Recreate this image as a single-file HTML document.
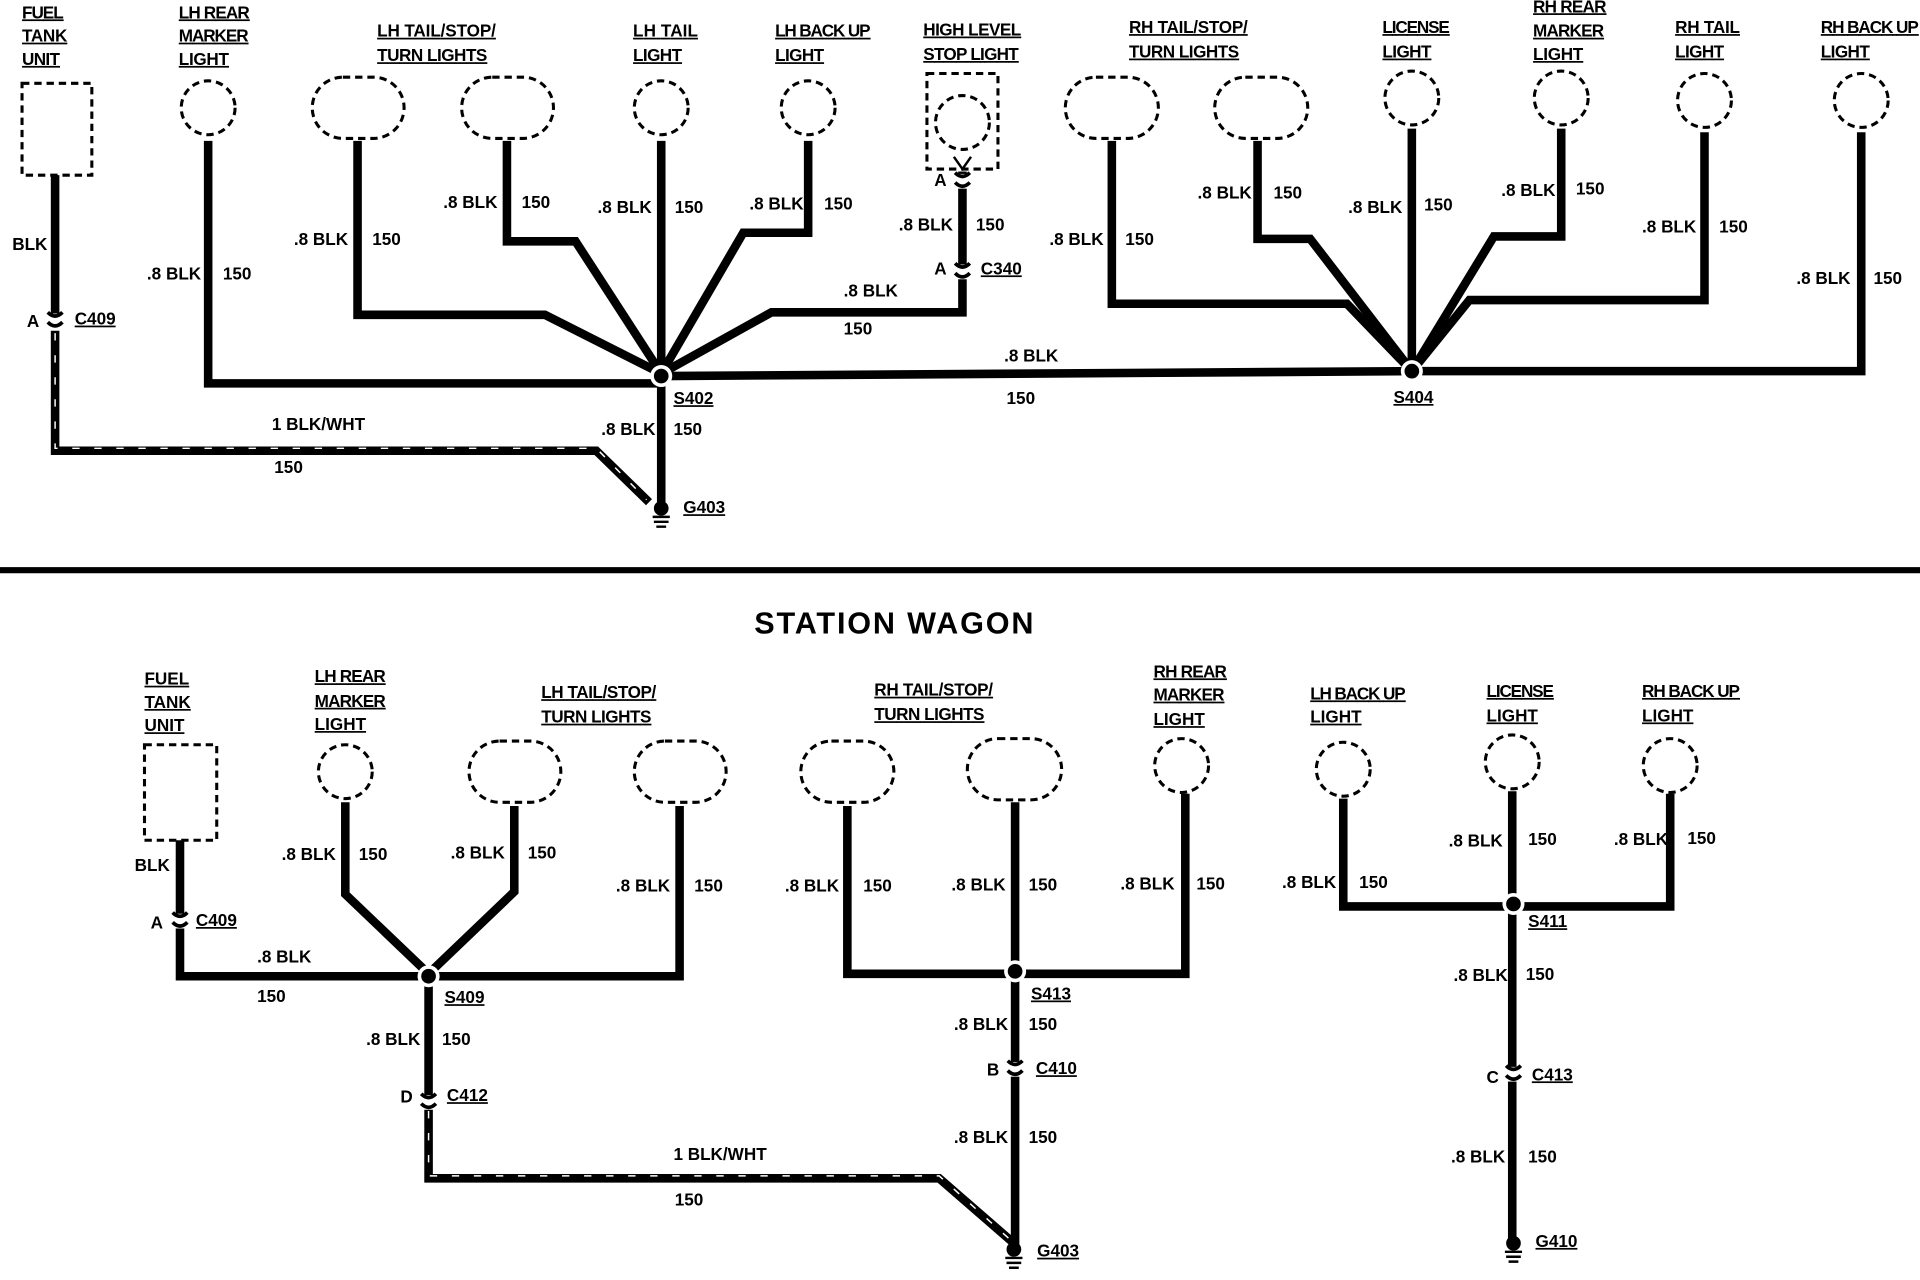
<!DOCTYPE html>
<html><head><meta charset="utf-8"><style>
html,body{margin:0;padding:0;background:#fff;width:1920px;height:1280px;overflow:hidden}
svg{display:block}
text{font-family:"Liberation Sans",sans-serif;font-weight:bold;font-size:14px;fill:#000;font-stretch:condensed}
.u{text-decoration:underline}
.w{fill:none;stroke:#000;stroke-width:7;stroke-linejoin:miter}
.s{fill:none;stroke:#fff;stroke-width:1.2;stroke-dasharray:6 12}
.d{fill:none;stroke:#000;stroke-width:2.5;stroke-dasharray:6 4}
</style></head><body>
<svg width="1920" height="1280" viewBox="0 0 1568 1045" preserveAspectRatio="none">
<defs>
<g id="sp"><circle r="9" fill="#fff"/><circle r="6" fill="#000"/></g>
<g id="cn"><rect x="-8" y="-6" width="16" height="12" fill="#fff"/><path d="M-6,-7 Q0,-1 6,-7 M-6,1 Q0,7 6,1" fill="none" stroke="#000" stroke-width="3"/></g>
<g id="gd"><circle r="6" fill="#000"/><path d="M-7,7h14M-6,11h12M-4,15h8" stroke="#000" stroke-width="2"/></g>
</defs>

<g transform="scale(0.92,1)">
<g transform="scale(1.0869565,1)">
</g></g>

<!-- TOP -->
<g>
<g style="font-size:14px">
<text class="u" x="18" y="15" textLength="34">FUEL</text><text class="u" x="18" y="34" textLength="37">TANK</text><text class="u" x="18" y="53" textLength="31">UNIT</text>
<text class="u" x="146" y="15" textLength="58">LH REAR</text><text class="u" x="146" y="34" textLength="57">MARKER</text><text class="u" x="146" y="53" textLength="41">LIGHT</text>
<text class="u" x="308" y="30" textLength="97">LH TAIL/STOP/</text><text class="u" x="308" y="50" textLength="90">TURN LIGHTS</text>
<text class="u" x="517" y="30" textLength="53">LH TAIL</text><text class="u" x="517" y="50" textLength="40">LIGHT</text>
<text class="u" x="633" y="30" textLength="78">LH BACK UP</text><text class="u" x="633" y="50" textLength="40">LIGHT</text>
<text class="u" x="754" y="29" textLength="80">HIGH LEVEL</text><text class="u" x="754" y="49" textLength="78">STOP LIGHT</text>
<text class="u" x="922" y="27" textLength="97">RH TAIL/STOP/</text><text class="u" x="922" y="47" textLength="90">TURN LIGHTS</text>
<text class="u" x="1129" y="27" textLength="55">LICENSE</text><text class="u" x="1129" y="47" textLength="40">LIGHT</text>
<text class="u" x="1252" y="10" textLength="60">RH REAR</text><text class="u" x="1252" y="30" textLength="58">MARKER</text><text class="u" x="1252" y="49" textLength="41">LIGHT</text>
<text class="u" x="1368" y="27" textLength="53">RH TAIL</text><text class="u" x="1368" y="47" textLength="40">LIGHT</text>
<text class="u" x="1487" y="27" textLength="80">RH BACK UP</text><text class="u" x="1487" y="47" textLength="40">LIGHT</text>
</g>

<rect class="d" x="18" y="68" width="57" height="75"/>
<circle class="d" cx="170" cy="88" r="22"/>
<rect class="d" x="255" y="63" width="75" height="50" rx="25"/>
<rect class="d" x="377" y="63" width="75" height="50" rx="25"/>
<circle class="d" cx="540" cy="88" r="22"/>
<circle class="d" cx="660" cy="88" r="22"/>
<rect class="d" x="757" y="60" width="58" height="78"/>
<circle class="d" cx="786" cy="100" r="22"/>
<rect class="d" x="870" y="63" width="76" height="50" rx="25"/>
<rect class="d" x="992" y="63" width="76" height="50" rx="25"/>
<circle class="d" cx="1153" cy="80" r="22"/>
<circle class="d" cx="1275" cy="80" r="22"/>
<circle class="d" cx="1392" cy="82" r="22"/>
<circle class="d" cx="1520" cy="82" r="22"/>

<path class="w" d="M45,143V262"/>
<path class="w" d="M45,270V368H487L530,410"/><path class="s" d="M45,272V366H487L528,408"/>
<path class="w" d="M170,115V313H540"/>
<path class="w" d="M292,115V257H445L540,305"/>
<path class="w" d="M414,115V197H470L540,305"/>
<path class="w" d="M540,115V415"/>
<path class="w" d="M660,115V190H607L540,305"/>
<path class="w" d="M786,140V255H630L540,305"/>
<path class="w" d="M540,307L1153,303"/>
<path class="w" d="M908,115V248H1100L1153,303"/>
<path class="w" d="M1027,115V195H1070L1153,303"/>
<path class="w" d="M1153,105V303"/>
<path class="w" d="M1275,105V193H1220L1153,303"/>
<path class="w" d="M1392,108V245H1200L1153,303"/>
<path class="w" d="M1520,108V303H1153"/>
<path d="M779,128L786,138L793,128" fill="none" stroke="#000" stroke-width="2"/>
<use href="#cn" x="45" y="262"/><use href="#cn" x="786" y="148"/><use href="#cn" x="786" y="222"/>
<use href="#sp" x="540" y="307"/><use href="#sp" x="1153" y="303"/>
<use href="#gd" x="540" y="415"/>

<text x="10" y="204">BLK</text><text x="22" y="267">A</text><text class="u" x="61" y="265">C409</text>
<text x="120" y="228">.8 BLK</text><text x="182" y="228">150</text>
<text x="240" y="200">.8 BLK</text><text x="304" y="200">150</text>
<text x="362" y="170">.8 BLK</text><text x="426" y="170">150</text>
<text x="488" y="174">.8 BLK</text><text x="551" y="174">150</text>
<text x="612" y="171">.8 BLK</text><text x="673" y="171">150</text>
<text x="734" y="188">.8 BLK</text><text x="797" y="188">150</text>
<text x="763" y="152">A</text><text x="763" y="224">A</text><text class="u" x="801" y="224">C340</text>
<text x="689" y="242">.8 BLK</text><text x="689" y="273">150</text>
<text x="820" y="295">.8 BLK</text><text x="822" y="330">150</text>
<text class="u" x="550" y="330">S402</text><text class="u" x="1138" y="329">S404</text>
<text x="222" y="351">1 BLK/WHT</text><text x="224" y="386">150</text>
<text x="491" y="355">.8 BLK</text><text x="550" y="355">150</text>
<text class="u" x="558" y="419">G403</text>
<text x="857" y="200">.8 BLK</text><text x="919" y="200">150</text>
<text x="978" y="162">.8 BLK</text><text x="1040" y="162">150</text>
<text x="1101" y="174">.8 BLK</text><text x="1163" y="172">150</text>
<text x="1226" y="160">.8 BLK</text><text x="1287" y="159">150</text>
<text x="1341" y="190">.8 BLK</text><text x="1404" y="190">150</text>
<text x="1467" y="232">.8 BLK</text><text x="1530" y="232">150</text>
</g>

<rect x="0" y="463" width="1568" height="5" fill="#000"/>
<text x="730" y="517" text-anchor="middle" style="font-size:25px" textLength="228">STATION WAGON</text>

<!-- BOTTOM -->
<g>
<text class="u" x="118" y="559">FUEL</text><text class="u" x="118" y="578">TANK</text><text class="u" x="118" y="597">UNIT</text>
<text class="u" x="257" y="557" textLength="58">LH REAR</text><text class="u" x="257" y="577" textLength="58">MARKER</text><text class="u" x="257" y="596">LIGHT</text>
<text class="u" x="442" y="570" textLength="94">LH TAIL/STOP/</text><text class="u" x="442" y="590" textLength="90">TURN LIGHTS</text>
<text class="u" x="714" y="568" textLength="97">RH TAIL/STOP/</text><text class="u" x="714" y="588" textLength="90">TURN LIGHTS</text>
<text class="u" x="942" y="553" textLength="60">RH REAR</text><text class="u" x="942" y="572" textLength="58">MARKER</text><text class="u" x="942" y="592">LIGHT</text>
<text class="u" x="1070" y="571" textLength="78">LH BACK UP</text><text class="u" x="1070" y="590">LIGHT</text>
<text class="u" x="1214" y="569" textLength="55">LICENSE</text><text class="u" x="1214" y="589">LIGHT</text>
<text class="u" x="1341" y="569" textLength="80">RH BACK UP</text><text class="u" x="1341" y="589">LIGHT</text>

<rect class="d" x="118" y="608" width="59" height="78"/>
<circle class="d" cx="282" cy="630" r="22"/>
<rect class="d" x="383" y="605" width="75" height="50" rx="25"/>
<rect class="d" x="518" y="605" width="75" height="50" rx="25"/>
<rect class="d" x="654" y="605" width="76" height="50" rx="25"/>
<rect class="d" x="790" y="603" width="77" height="50" rx="25"/>
<circle class="d" cx="965" cy="625" r="22"/>
<circle class="d" cx="1097" cy="628" r="22"/>
<circle class="d" cx="1235" cy="622" r="22"/>
<circle class="d" cx="1364" cy="625" r="22"/>

<path class="w" d="M147,686V797H350"/>
<path class="w" d="M282,655V730L350,795"/>
<path class="w" d="M420,658V728L350,795"/>
<path class="w" d="M555,658V797H350"/>
<path class="w" d="M350,797V898"/>
<path class="w" d="M350,905V962H767L828,1015"/><path class="s" d="M350,907V960H767L826,1013"/>
<path class="w" d="M692,658V795H968V648"/>
<path class="w" d="M829,655V1020"/>
<path class="w" d="M1097,652V740H1364V648"/>
<path class="w" d="M1235,646V1015"/>
<use href="#cn" x="147" y="752"/><use href="#cn" x="350" y="900"/><use href="#cn" x="829" y="873"/><use href="#cn" x="1236" y="877"/>
<use href="#sp" x="350" y="797"/><use href="#sp" x="829" y="793"/><use href="#sp" x="1236" y="738"/>
<use href="#gd" x="828" y="1020"/><use href="#gd" x="1236" y="1015"/>

<text x="110" y="711">BLK</text><text x="123" y="758">A</text><text class="u" x="160" y="756">C409</text>
<text x="210" y="786">.8 BLK</text><text x="210" y="818">150</text>
<text x="230" y="702">.8 BLK</text><text x="293" y="702">150</text>
<text x="368" y="701">.8 BLK</text><text x="431" y="701">150</text>
<text x="503" y="728">.8 BLK</text><text x="567" y="728">150</text>
<text class="u" x="363" y="819">S409</text>
<text x="299" y="853">.8 BLK</text><text x="361" y="853">150</text>
<text x="327" y="900">D</text><text class="u" x="365" y="899">C412</text>
<text x="550" y="947">1 BLK/WHT</text><text x="551" y="984">150</text>
<text x="641" y="728">.8 BLK</text><text x="705" y="728">150</text>
<text x="777" y="727">.8 BLK</text><text x="840" y="727">150</text>
<text x="915" y="726">.8 BLK</text><text x="977" y="726">150</text>
<text class="u" x="842" y="816">S413</text>
<text x="779" y="841">.8 BLK</text><text x="840" y="841">150</text>
<text x="806" y="878">B</text><text class="u" x="846" y="877">C410</text>
<text x="779" y="933">.8 BLK</text><text x="840" y="933">150</text>
<text class="u" x="847" y="1026">G403</text>
<text x="1047" y="725">.8 BLK</text><text x="1110" y="725">150</text>
<text x="1183" y="691">.8 BLK</text><text x="1248" y="690">150</text>
<text x="1318" y="690">.8 BLK</text><text x="1378" y="689">150</text>
<text class="u" x="1248" y="757">S411</text>
<text x="1187" y="801">.8 BLK</text><text x="1246" y="800">150</text>
<text x="1214" y="884">C</text><text class="u" x="1251" y="882">C413</text>
<text x="1185" y="949">.8 BLK</text><text x="1248" y="949">150</text>
<text class="u" x="1254" y="1018">G410</text>
</g>
</svg>
</body></html>
